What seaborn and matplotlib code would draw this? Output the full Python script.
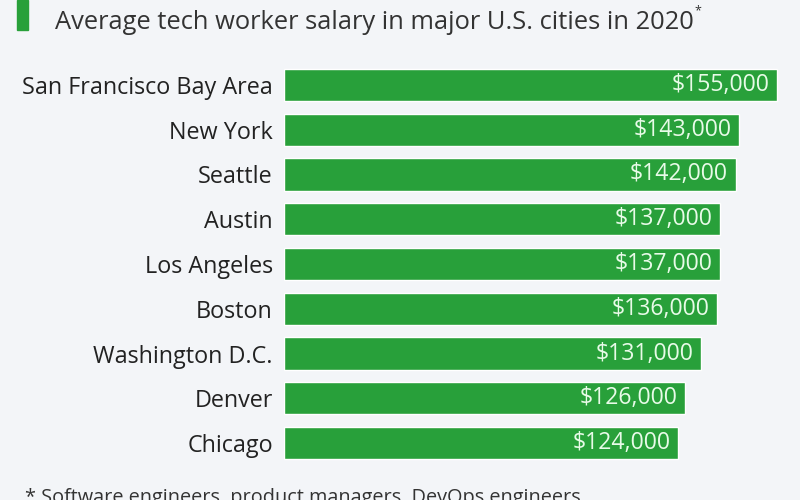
import matplotlib
matplotlib.use("Agg")
import matplotlib.pyplot as plt
import seaborn as sns
import pandas as pd
from matplotlib.patches import Rectangle

cities = ["San Francisco Bay Area", "New York", "Seattle", "Austin", "Los Angeles",
          "Boston", "Washington D.C.", "Denver", "Chicago"]
salaries = [155000, 143000, 142000, 137000, 137000, 136000, 131000, 126000, 124000]
subtitle = "Average tech worker salary in major U.S. cities in 2020"
footnote = "* Software engineers, product managers, DevOps engineers"

sns.set_theme(style="white")
plt.rcParams["font.family"] = ["Open Sans", "DejaVu Sans"]

bg = "#f3f5f8"
green = "#28a03a"

df = pd.DataFrame({"city": cities, "salary": salaries})

fig = plt.figure(figsize=(8, 5), dpi=100, facecolor=bg)
ax = fig.add_axes([0.355, 0.069, 0.645, 0.806])
ax.set_facecolor(bg)
sns.barplot(data=df, x="salary", y="city", color=green, saturation=1, width=0.72, ax=ax)
ax.set_xlim(0, 162200)
ax.set_xlabel("")
ax.set_ylabel("")
ax.set_xticks([])
for s in ax.spines.values():
    s.set_visible(False)
ax.tick_params(axis="y", length=0, pad=8, labelsize=16.8, labelcolor="#222222")

for i, v in enumerate(salaries):
    ax.text(v - 2400, i, f"${v:,}", ha="right", va="center", fontsize=16.6,
            color="#e8fbe8")

fig.patches.append(Rectangle((17 / 800, 1 - 30 / 500), 11 / 800, 30 / 500,
                             transform=fig.transFigure, color=green, figure=fig))
sub = fig.text(55 / 800, 1 - 29 / 500, subtitle, fontsize=18.4, color="#333333",
               ha="left", va="baseline")
fig.canvas.draw()
bb = sub.get_window_extent()
fig.text((bb.x1 + 1) / 800, 1 - 14 / 500, "*", fontsize=9, color="#333333",
         ha="left", va="baseline")
fig.text(25 / 800, 1 - 503 / 500, footnote, fontsize=14.3, color="#333333",
         ha="left", va="baseline")

fig.savefig("out.png", dpi=100, facecolor=bg)
